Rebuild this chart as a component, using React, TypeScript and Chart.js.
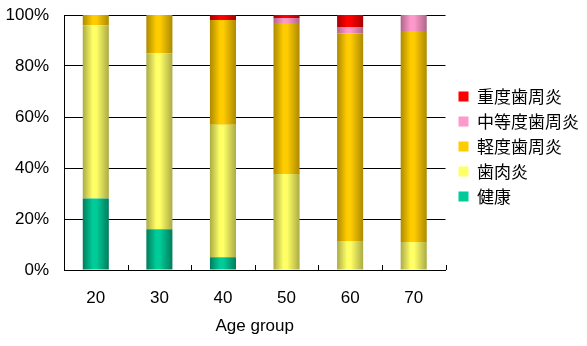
import React, { useEffect, useRef } from "react";
import { Chart, registerables } from "chart.js";

Chart.register(...registerables);

const ageGroups = ["20", "30", "40", "50", "60", "70"];
const healthy = [28, 16, 5, 0, 0, 0];
const gingivitis = [68, 69, 52, 37.6, 11.4, 11];
const mildPerio = [4, 15, 41, 59.3, 81.3, 82.7];
const moderatePerio = [0, 0, 0, 1.9, 2.6, 6.3];
const severePerio = [0, 0, 2, 1.2, 4.7, 0];
const yTicks = [0, 20, 40, 60, 80, 100];

const seriesNames = ["健康", "歯肉炎", "軽度歯周炎", "中等度歯周炎", "重度歯周炎"];
const seriesLight = ["#00CC99", "#FFFF66", "#FFCC00", "#FF99CC", "#FF0000"];
const seriesDark = ["#007D5C", "#ABAB45", "#AD8A00", "#AD6688", "#A80000"];

const BAR_PCT = 0.41;

function makeGradient(chart: any, index: number, ds: number) {
  const xs = chart.scales?.x;
  if (!xs || !chart.chartArea) return seriesLight[ds];
  const cx = xs.getPixelForValue(index);
  const w = (xs.width / ageGroups.length) * BAR_PCT;
  const g = chart.ctx.createLinearGradient(cx - w / 2, 0, cx + w / 2, 0);
  g.addColorStop(0, seriesDark[ds]);
  g.addColorStop(0.38, seriesLight[ds]);
  g.addColorStop(0.52, seriesLight[ds]);
  g.addColorStop(1, seriesDark[ds]);
  return g;
}

const innerTicks = {
  id: "innerTicks",
  afterDatasetsDraw(chart: any) {
    const xs = chart.scales.x;
    const ctx = chart.ctx;
    const bottom = chart.chartArea.bottom;
    const step = xs.width / ageGroups.length;
    ctx.save();
    ctx.strokeStyle = "#000";
    ctx.lineWidth = 1;
    ctx.beginPath();
    for (let i = 0; i <= ageGroups.length; i++) {
      const x = Math.round(xs.left + step * i) + 0.5;
      ctx.moveTo(x, bottom);
      ctx.lineTo(x, bottom - 5);
    }
    ctx.stroke();
    ctx.restore();
  },
};

const legendShift = {
  id: "legendShift",
  afterLayout(chart: any) {
    const l = chart.legend;
    if (!l) return;
    l.left += 5;
    l.right += 5;
    l.top -= 34;
    l.bottom -= 34;
  },
};

export default function App() {
  const ref = useRef<HTMLCanvasElement>(null);
  useEffect(() => {
    const values = [healthy, gingivitis, mildPerio, moderatePerio, severePerio];
    const chart = new Chart(ref.current!, {
      type: "bar",
      data: {
        labels: ageGroups,
        datasets: values.map((v, ds) => ({
          label: seriesNames[ds],
          data: v,
          backgroundColor: (c: any) => makeGradient(c.chart, c.dataIndex, ds),
          borderWidth: 0,
          categoryPercentage: 1,
          barPercentage: BAR_PCT,
        })),
      },
      options: {
        animation: false,
        responsive: false,
        maintainAspectRatio: false,
        layout: { padding: { top: 15, left: 0, right: 3, bottom: 0 } },
        plugins: {
          tooltip: { enabled: false },
          legend: {
            position: "right",
            reverse: true,
            labels: {
              font: { family: "'Noto Sans CJK JP'", size: 17 },
              color: "#000",
              boxWidth: 10,
              boxHeight: 10,
              padding: 8,
              generateLabels: (chart: any) =>
                Chart.defaults.plugins.legend.labels
                  .generateLabels(chart)
                  .map((l: any) => ({
                    ...l,
                    fillStyle: seriesLight[l.datasetIndex],
                    strokeStyle: seriesLight[l.datasetIndex],
                    lineWidth: 0,
                  })),
            },
          },
        },
        scales: {
          x: {
            stacked: true,
            grid: { display: false, drawTicks: false },
            border: { display: true, color: "#000", width: 1 },
            afterFit: (s: any) => {
              s.height = 76;
            },
            ticks: {
              padding: 18,
              color: "#000",
              font: { family: "'Liberation Sans'", size: 17 },
            },
            title: {
              display: true,
              text: "Age group",
              color: "#000",
              font: { family: "'Liberation Sans'", size: 17 },
              padding: { top: 0, bottom: 9 },
            },
          },
          y: {
            stacked: true,
            min: 0,
            max: 100,
            afterBuildTicks: (s: any) => {
              s.ticks = yTicks.map((v) => ({ value: v }));
            },
            afterFit: (s: any) => {
              s.width = 64;
              s.paddingTop = 0;
              s.paddingBottom = 0;
            },
            grid: { color: "#000", lineWidth: 1, drawTicks: false },
            border: { display: true, color: "#000", width: 1 },
            ticks: {
              padding: 15,
              color: "#000",
              font: { family: "'Liberation Sans'", size: 17 },
              callback: (v: any) => v + "%",
            },
          },
        },
      },
      plugins: [innerTicks, legendShift],
    });
    return () => chart.destroy();
  }, []);
  return (
    <div style={{ position: "fixed", left: 0, top: 0, width: 587, height: 346, background: "#fff" }}>
      <canvas ref={ref} width={587} height={346} />
    </div>
  );
}
